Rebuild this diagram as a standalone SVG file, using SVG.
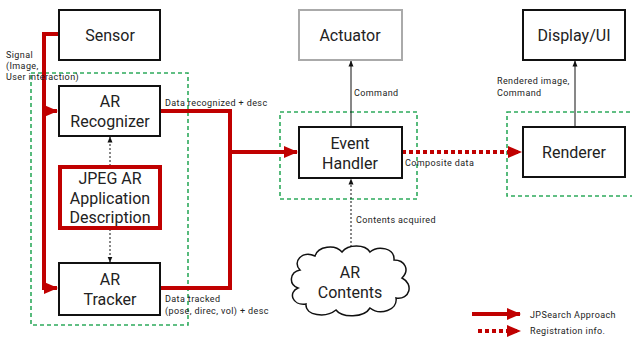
<svg xmlns="http://www.w3.org/2000/svg" width="632" height="337" viewBox="0 0 632 337">
  <defs>
    <marker id="redHead" markerUnits="userSpaceOnUse" markerWidth="14" markerHeight="14" viewBox="0 0 14 14" refX="13" refY="7" orient="auto">
      <path d="M0,1 L14,7 L0,13 Z" fill="#c00000"/>
    </marker>
    <marker id="blackHead" markerUnits="userSpaceOnUse" markerWidth="6" markerHeight="6" viewBox="0 0 6 6" refX="5.5" refY="3" orient="auto">
      <path d="M0,0.5 L6,3 L0,5.5 Z" fill="#111"/>
    </marker>
  </defs>
  <style>
    .box { fill: #fff; stroke: #111; stroke-width: 2; }
    .grey { fill: #fff; stroke: #aaa; stroke-width: 2; }
    .jpeg { fill: #fff; stroke: #c00000; stroke-width: 4; }
    .group { fill: none; stroke: #2eaa5c; stroke-width: 1.6; stroke-dasharray: 4 3; }
    .node { font-family: Roboto, "Noto Sans", sans-serif; font-size: 16px; fill: #222; text-anchor: middle; }
    .lbl { font-family: Roboto, "Noto Sans", sans-serif; font-size: 9px; letter-spacing: 0.4px; fill: #222; }
    .red { fill: none; stroke: #c00000; stroke-width: 4; }
    .redDot { fill: none; stroke: #c00000; stroke-width: 4; stroke-dasharray: 4 3; }
    .thin { fill: none; stroke: #111; stroke-width: 1; }
    .dots { fill: none; stroke: #111; stroke-width: 1; stroke-dasharray: 2 2; }
  </style>

  <rect width="632" height="337" fill="#fff"/>

  <!-- grouping frames -->
  <g id="frames">
    <rect class="group" x="31" y="73" width="157" height="252"/>
    <rect class="group" x="280" y="112" width="137" height="87"/>
    <rect class="group" x="507" y="112" width="130" height="84"/>
  </g>

  <!-- connectors -->
  <g id="connectors">
    <path class="red" d="M59,34 H44 V111 H57" marker-end="url(#redHead)"/>
    <path class="red" d="M44,109 V288 H57" marker-end="url(#redHead)"/>
    <path class="red" d="M160,111 H230 V288 H160"/>
    <path class="red" d="M230,152 H297" marker-end="url(#redHead)"/>
    <path class="redDot" d="M402,152 H521" marker-end="url(#redHead)"/>
    <path class="thin" d="M351,127 V61" marker-end="url(#blackHead)"/>
    <path class="thin" d="M575,127 V61" marker-end="url(#blackHead)"/>
    <path class="dots" d="M351,247 V179" marker-end="url(#blackHead)"/>
    <path class="dots" d="M110,166 V137" marker-end="url(#blackHead)"/>
    <path class="dots" d="M110,229 V262" marker-end="url(#blackHead)"/>
  </g>

  <!-- connector labels -->
  <g id="labels">
    <text class="lbl" x="6" y="58">Signal</text>
    <text class="lbl" x="6" y="69">(Image,</text>
    <text class="lbl" x="6" y="80">User interaction)</text>
    <text class="lbl" x="165" y="106">Data recognized + desc</text>
    <text class="lbl" x="165" y="302">Data tracked</text>
    <text class="lbl" x="165" y="314">(pose, direc, vol) + desc</text>
    <text class="lbl" x="354" y="96">Command</text>
    <text class="lbl" x="356" y="223">Contents acquired</text>
    <text class="lbl" x="405" y="166">Composite data</text>
    <text class="lbl" x="497" y="84">Rendered image,</text>
    <text class="lbl" x="497" y="96">Command</text>
  </g>

  <g id="sensor">
    <rect class="box" x="59" y="10" width="101" height="50"/>
    <text class="node" x="110" y="41">Sensor</text>
  </g>
  <g id="ar-recognizer">
    <rect class="box" x="59" y="86" width="101" height="50"/>
    <text class="node" x="110" y="107">AR</text>
    <text class="node" x="110" y="127">Recognizer</text>
  </g>
  <g id="jpeg-ar-description">
    <rect class="jpeg" x="60" y="167" width="100" height="61"/>
    <text class="node" x="110" y="184">JPEG AR</text>
    <text class="node" x="110" y="204">Application</text>
    <text class="node" x="110" y="223">Description</text>
  </g>
  <g id="ar-tracker">
    <rect class="box" x="59" y="263" width="101" height="52"/>
    <text class="node" x="110" y="285">AR</text>
    <text class="node" x="110" y="305">Tracker</text>
  </g>
  <g id="actuator">
    <rect class="grey" x="299" y="10" width="103" height="50"/>
    <text class="node" x="350" y="41">Actuator</text>
  </g>
  <g id="event-handler">
    <rect class="box" x="299" y="127" width="103" height="51"/>
    <text class="node" x="350" y="149">Event</text>
    <text class="node" x="350" y="169">Handler</text>
  </g>
  <g id="ar-contents">
    <path d="M300,270 C292,262 302,250 315,256 C318,246 335,244 342,252 C348,244 365,244 370,252 C378,245 395,248 394,260 C405,260 410,270 402,278 C414,284 410,300 396,298 C398,310 380,316 370,308 C364,318 342,318 336,310 C326,318 305,316 306,304 C292,306 288,292 298,288 C288,284 290,272 300,270 Z" fill="#fff" stroke="#111" stroke-width="1.5"/>
    <text class="node" x="350" y="278">AR</text>
    <text class="node" x="350" y="298">Contents</text>
  </g>
  <g id="display-ui">
    <rect class="box" x="523" y="10" width="102" height="50"/>
    <text class="node" x="574" y="41">Display/UI</text>
  </g>
  <g id="renderer">
    <rect class="box" x="523" y="127" width="102" height="50"/>
    <text class="node" x="574" y="158">Renderer</text>
  </g>

  <!-- legend -->
  <g id="legend">
    <path class="red" d="M472,314 H520" marker-end="url(#redHead)"/>
    <path class="redDot" d="M478,331 H520" marker-end="url(#redHead)"/>
    <text class="lbl" x="530" y="318">JPSearch Approach</text>
    <text class="lbl" x="530" y="334">Registration info.</text>
  </g>
</svg>
